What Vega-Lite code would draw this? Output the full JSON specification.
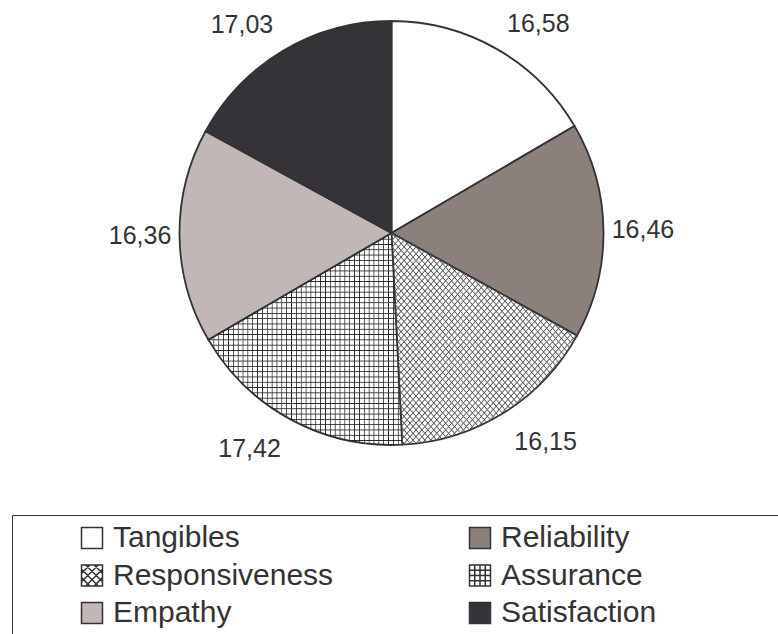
{
  "$schema": "https://vega.github.io/schema/vega-lite/v6.json",
  "width": 773,
  "height": 466,
  "autosize": {"type": "none"},
  "padding": {"left": 5, "top": 0, "right": 0, "bottom": 168},
  "background": "#ffffff",
  "config": {
    "view": {"stroke": null},
    "font": "Liberation Sans",
    "locale": {"number": {"decimal": ",", "thousands": ".", "grouping": [3], "currency": ["", " €"]}}
  },
  "data": {
    "values": [
      {"category": "Tangibles", "value": 16.58},
      {"category": "Reliability", "value": 16.46},
      {"category": "Responsiveness", "value": 16.15},
      {"category": "Assurance", "value": 17.42},
      {"category": "Empathy", "value": 16.36},
      {"category": "Satisfaction", "value": 17.03}
    ]
  },
  "transform": [{"window": [{"op": "row_number", "as": "slice_order"}]}],
  "encoding": {
    "theta": {"field": "value", "type": "quantitative", "stack": true},
    "order": {"field": "slice_order", "type": "quantitative"}
  },
  "layer": [
    {
      "mark": {"type": "arc", "outerRadius": 212, "stroke": "#333333", "strokeWidth": 1.8},
      "encoding": {
        "color": {
          "field": "category",
          "type": "nominal",
          "scale": {
            "domain": ["Tangibles", "Reliability", "Responsiveness", "Assurance", "Empathy", "Satisfaction"],
            "range": ["#ffffff", "#8c807c", "#ffffff", "#ffffff", "#c1b7b6", "#353338"]
          },
          "legend": {
            "orient": "none",
            "legendX": 7,
            "legendY": 515,
            "title": "\u00a0",
            "titleOrient": "right",
            "titlePadding": 130,
            "titleFontSize": 4,
            "direction": "horizontal",
            "columns": 2,
            "padding": 8,
            "strokeColor": "#333333",
            "symbolType": "square",
            "symbolSize": 441,
            "symbolStrokeColor": "#333333",
            "symbolStrokeWidth": 1.5,
            "symbolOpacity": 1,
            "symbolOffset": 57,
            "labelOffset": 6,
            "labelFont": "Liberation Sans",
            "labelFontSize": 30,
            "labelColor": "#333333",
            "labelLimit": 400,
            "columnPadding": 74,
            "rowPadding": 7.5,
            "encode": {
              "symbols": {
                "update": {
                  "shape": [
                    {"test": "datum.value === 'Assurance'", "value": "M-1,-1H1V1H-1Z M-0.5,-1V1 M0,-1V1 M0.5,-1V1 M-1,-0.5H1 M-1,0H1 M-1,0.5H1"},
                    {"test": "datum.value === 'Responsiveness'", "value": "M-1,-1H1V1H-1Z M-1,-0.2L-0.2,-1 M-1,0.6L0.6,-1 M-0.6,1L1,-0.6 M0.2,1L1,0.2 M0.2,-1L1,-0.2 M-0.6,-1L1,0.6 M-1,-0.6L0.6,1 M-1,0.2L-0.2,1"},
                    {"value": "square"}
                  ]
                }
              }
            }
          }
        }
      }
    },
    {
      "mark": {"type": "arc", "outerRadius": 212, "strokeWidth": 0, "fill": {"gradient": "linear", "x1": 0, "y1": 0, "x2": 1, "y2": 0, "stops": [
              {"offset":0,"color":"#2220"},{"offset":0.004,"color":"#222"},{"offset":0.008,"color":"#2220"},
              {"offset":0.025,"color":"#2220"},{"offset":0.029,"color":"#222"},{"offset":0.033,"color":"#2220"},
              {"offset":0.05,"color":"#2220"},{"offset":0.054,"color":"#222"},{"offset":0.058,"color":"#2220"},
              {"offset":0.075,"color":"#2220"},{"offset":0.079,"color":"#222"},{"offset":0.083,"color":"#2220"},
              {"offset":0.1,"color":"#2220"},{"offset":0.104,"color":"#222"},{"offset":0.108,"color":"#2220"},
              {"offset":0.125,"color":"#2220"},{"offset":0.129,"color":"#222"},{"offset":0.133,"color":"#2220"},
              {"offset":0.15,"color":"#2220"},{"offset":0.154,"color":"#222"},{"offset":0.158,"color":"#2220"},
              {"offset":0.175,"color":"#2220"},{"offset":0.179,"color":"#222"},{"offset":0.183,"color":"#2220"},
              {"offset":0.2,"color":"#2220"},{"offset":0.204,"color":"#222"},{"offset":0.208,"color":"#2220"},
              {"offset":0.225,"color":"#2220"},{"offset":0.229,"color":"#222"},{"offset":0.233,"color":"#2220"},
              {"offset":0.25,"color":"#2220"},{"offset":0.254,"color":"#222"},{"offset":0.258,"color":"#2220"},
              {"offset":0.275,"color":"#2220"},{"offset":0.279,"color":"#222"},{"offset":0.283,"color":"#2220"},
              {"offset":0.3,"color":"#2220"},{"offset":0.304,"color":"#222"},{"offset":0.308,"color":"#2220"},
              {"offset":0.325,"color":"#2220"},{"offset":0.329,"color":"#222"},{"offset":0.333,"color":"#2220"},
              {"offset":0.35,"color":"#2220"},{"offset":0.354,"color":"#222"},{"offset":0.358,"color":"#2220"},
              {"offset":0.375,"color":"#2220"},{"offset":0.379,"color":"#222"},{"offset":0.383,"color":"#2220"},
              {"offset":0.4,"color":"#2220"},{"offset":0.404,"color":"#222"},{"offset":0.408,"color":"#2220"},
              {"offset":0.425,"color":"#2220"},{"offset":0.429,"color":"#222"},{"offset":0.433,"color":"#2220"},
              {"offset":0.45,"color":"#2220"},{"offset":0.454,"color":"#222"},{"offset":0.458,"color":"#2220"},
              {"offset":0.475,"color":"#2220"},{"offset":0.479,"color":"#222"},{"offset":0.483,"color":"#2220"},
              {"offset":0.5,"color":"#2220"},{"offset":0.504,"color":"#222"},{"offset":0.508,"color":"#2220"},
              {"offset":0.525,"color":"#2220"},{"offset":0.529,"color":"#222"},{"offset":0.533,"color":"#2220"},
              {"offset":0.55,"color":"#2220"},{"offset":0.554,"color":"#222"},{"offset":0.558,"color":"#2220"},
              {"offset":0.575,"color":"#2220"},{"offset":0.579,"color":"#222"},{"offset":0.583,"color":"#2220"},
              {"offset":0.6,"color":"#2220"},{"offset":0.604,"color":"#222"},{"offset":0.608,"color":"#2220"},
              {"offset":0.625,"color":"#2220"},{"offset":0.629,"color":"#222"},{"offset":0.633,"color":"#2220"},
              {"offset":0.65,"color":"#2220"},{"offset":0.654,"color":"#222"},{"offset":0.658,"color":"#2220"},
              {"offset":0.675,"color":"#2220"},{"offset":0.679,"color":"#222"},{"offset":0.683,"color":"#2220"},
              {"offset":0.7,"color":"#2220"},{"offset":0.704,"color":"#222"},{"offset":0.708,"color":"#2220"},
              {"offset":0.725,"color":"#2220"},{"offset":0.729,"color":"#222"},{"offset":0.733,"color":"#2220"},
              {"offset":0.75,"color":"#2220"},{"offset":0.754,"color":"#222"},{"offset":0.758,"color":"#2220"},
              {"offset":0.775,"color":"#2220"},{"offset":0.779,"color":"#222"},{"offset":0.783,"color":"#2220"},
              {"offset":0.8,"color":"#2220"},{"offset":0.804,"color":"#222"},{"offset":0.808,"color":"#2220"},
              {"offset":0.825,"color":"#2220"},{"offset":0.829,"color":"#222"},{"offset":0.833,"color":"#2220"},
              {"offset":0.85,"color":"#2220"},{"offset":0.854,"color":"#222"},{"offset":0.858,"color":"#2220"},
              {"offset":0.875,"color":"#2220"},{"offset":0.879,"color":"#222"},{"offset":0.883,"color":"#2220"},
              {"offset":0.9,"color":"#2220"},{"offset":0.904,"color":"#222"},{"offset":0.908,"color":"#2220"},
              {"offset":0.925,"color":"#2220"},{"offset":0.929,"color":"#222"},{"offset":0.933,"color":"#2220"},
              {"offset":0.95,"color":"#2220"},{"offset":0.954,"color":"#222"},{"offset":0.958,"color":"#2220"},
              {"offset":0.975,"color":"#2220"},{"offset":0.979,"color":"#222"},{"offset":0.983,"color":"#2220"},
              {"offset":1,"color":"#2220"}
            ]}},
      "encoding": {
        "detail": {"field": "category", "type": "nominal"},
        "fillOpacity": {"condition": {"test": "datum.category === 'Assurance'", "value": 1}, "value": 0}
      }
    },
    {
      "mark": {"type": "arc", "outerRadius": 212, "strokeWidth": 0, "fill": {"gradient": "linear", "x1": 0, "y1": 0, "x2": 0, "y2": 1, "stops": [
              {"offset":0,"color":"#2220"},{"offset":0.004,"color":"#222"},{"offset":0.008,"color":"#2220"},
              {"offset":0.025,"color":"#2220"},{"offset":0.029,"color":"#222"},{"offset":0.033,"color":"#2220"},
              {"offset":0.05,"color":"#2220"},{"offset":0.054,"color":"#222"},{"offset":0.058,"color":"#2220"},
              {"offset":0.075,"color":"#2220"},{"offset":0.079,"color":"#222"},{"offset":0.083,"color":"#2220"},
              {"offset":0.1,"color":"#2220"},{"offset":0.104,"color":"#222"},{"offset":0.108,"color":"#2220"},
              {"offset":0.125,"color":"#2220"},{"offset":0.129,"color":"#222"},{"offset":0.133,"color":"#2220"},
              {"offset":0.15,"color":"#2220"},{"offset":0.154,"color":"#222"},{"offset":0.158,"color":"#2220"},
              {"offset":0.175,"color":"#2220"},{"offset":0.179,"color":"#222"},{"offset":0.183,"color":"#2220"},
              {"offset":0.2,"color":"#2220"},{"offset":0.204,"color":"#222"},{"offset":0.208,"color":"#2220"},
              {"offset":0.225,"color":"#2220"},{"offset":0.229,"color":"#222"},{"offset":0.233,"color":"#2220"},
              {"offset":0.25,"color":"#2220"},{"offset":0.254,"color":"#222"},{"offset":0.258,"color":"#2220"},
              {"offset":0.275,"color":"#2220"},{"offset":0.279,"color":"#222"},{"offset":0.283,"color":"#2220"},
              {"offset":0.3,"color":"#2220"},{"offset":0.304,"color":"#222"},{"offset":0.308,"color":"#2220"},
              {"offset":0.325,"color":"#2220"},{"offset":0.329,"color":"#222"},{"offset":0.333,"color":"#2220"},
              {"offset":0.35,"color":"#2220"},{"offset":0.354,"color":"#222"},{"offset":0.358,"color":"#2220"},
              {"offset":0.375,"color":"#2220"},{"offset":0.379,"color":"#222"},{"offset":0.383,"color":"#2220"},
              {"offset":0.4,"color":"#2220"},{"offset":0.404,"color":"#222"},{"offset":0.408,"color":"#2220"},
              {"offset":0.425,"color":"#2220"},{"offset":0.429,"color":"#222"},{"offset":0.433,"color":"#2220"},
              {"offset":0.45,"color":"#2220"},{"offset":0.454,"color":"#222"},{"offset":0.458,"color":"#2220"},
              {"offset":0.475,"color":"#2220"},{"offset":0.479,"color":"#222"},{"offset":0.483,"color":"#2220"},
              {"offset":0.5,"color":"#2220"},{"offset":0.504,"color":"#222"},{"offset":0.508,"color":"#2220"},
              {"offset":0.525,"color":"#2220"},{"offset":0.529,"color":"#222"},{"offset":0.533,"color":"#2220"},
              {"offset":0.55,"color":"#2220"},{"offset":0.554,"color":"#222"},{"offset":0.558,"color":"#2220"},
              {"offset":0.575,"color":"#2220"},{"offset":0.579,"color":"#222"},{"offset":0.583,"color":"#2220"},
              {"offset":0.6,"color":"#2220"},{"offset":0.604,"color":"#222"},{"offset":0.608,"color":"#2220"},
              {"offset":0.625,"color":"#2220"},{"offset":0.629,"color":"#222"},{"offset":0.633,"color":"#2220"},
              {"offset":0.65,"color":"#2220"},{"offset":0.654,"color":"#222"},{"offset":0.658,"color":"#2220"},
              {"offset":0.675,"color":"#2220"},{"offset":0.679,"color":"#222"},{"offset":0.683,"color":"#2220"},
              {"offset":0.7,"color":"#2220"},{"offset":0.704,"color":"#222"},{"offset":0.708,"color":"#2220"},
              {"offset":0.725,"color":"#2220"},{"offset":0.729,"color":"#222"},{"offset":0.733,"color":"#2220"},
              {"offset":0.75,"color":"#2220"},{"offset":0.754,"color":"#222"},{"offset":0.758,"color":"#2220"},
              {"offset":0.775,"color":"#2220"},{"offset":0.779,"color":"#222"},{"offset":0.783,"color":"#2220"},
              {"offset":0.8,"color":"#2220"},{"offset":0.804,"color":"#222"},{"offset":0.808,"color":"#2220"},
              {"offset":0.825,"color":"#2220"},{"offset":0.829,"color":"#222"},{"offset":0.833,"color":"#2220"},
              {"offset":0.85,"color":"#2220"},{"offset":0.854,"color":"#222"},{"offset":0.858,"color":"#2220"},
              {"offset":0.875,"color":"#2220"},{"offset":0.879,"color":"#222"},{"offset":0.883,"color":"#2220"},
              {"offset":0.9,"color":"#2220"},{"offset":0.904,"color":"#222"},{"offset":0.908,"color":"#2220"},
              {"offset":0.925,"color":"#2220"},{"offset":0.929,"color":"#222"},{"offset":0.933,"color":"#2220"},
              {"offset":0.95,"color":"#2220"},{"offset":0.954,"color":"#222"},{"offset":0.958,"color":"#2220"},
              {"offset":0.975,"color":"#2220"},{"offset":0.979,"color":"#222"},{"offset":0.983,"color":"#2220"},
              {"offset":1,"color":"#2220"}
            ]}},
      "encoding": {
        "detail": {"field": "category", "type": "nominal"},
        "fillOpacity": {"condition": {"test": "datum.category === 'Assurance'", "value": 1}, "value": 0}
      }
    },
    {
      "mark": {"type": "arc", "outerRadius": 212, "strokeWidth": 0, "fill": {"gradient": "linear", "x1": 0, "y1": 0, "x2": 1, "y2": 1, "stops": [
              {"offset":0,"color":"#5550"},{"offset":0.003,"color":"#555"},{"offset":0.006,"color":"#5550"},
              {"offset":0.016,"color":"#5550"},{"offset":0.019,"color":"#555"},{"offset":0.022,"color":"#5550"},
              {"offset":0.032,"color":"#5550"},{"offset":0.035,"color":"#555"},{"offset":0.038,"color":"#5550"},
              {"offset":0.048,"color":"#5550"},{"offset":0.051,"color":"#555"},{"offset":0.054,"color":"#5550"},
              {"offset":0.064,"color":"#5550"},{"offset":0.067,"color":"#555"},{"offset":0.07,"color":"#5550"},
              {"offset":0.08,"color":"#5550"},{"offset":0.083,"color":"#555"},{"offset":0.086,"color":"#5550"},
              {"offset":0.096,"color":"#5550"},{"offset":0.099,"color":"#555"},{"offset":0.102,"color":"#5550"},
              {"offset":0.112,"color":"#5550"},{"offset":0.115,"color":"#555"},{"offset":0.118,"color":"#5550"},
              {"offset":0.128,"color":"#5550"},{"offset":0.131,"color":"#555"},{"offset":0.134,"color":"#5550"},
              {"offset":0.144,"color":"#5550"},{"offset":0.147,"color":"#555"},{"offset":0.15,"color":"#5550"},
              {"offset":0.16,"color":"#5550"},{"offset":0.163,"color":"#555"},{"offset":0.166,"color":"#5550"},
              {"offset":0.176,"color":"#5550"},{"offset":0.179,"color":"#555"},{"offset":0.182,"color":"#5550"},
              {"offset":0.192,"color":"#5550"},{"offset":0.195,"color":"#555"},{"offset":0.198,"color":"#5550"},
              {"offset":0.208,"color":"#5550"},{"offset":0.211,"color":"#555"},{"offset":0.214,"color":"#5550"},
              {"offset":0.224,"color":"#5550"},{"offset":0.227,"color":"#555"},{"offset":0.23,"color":"#5550"},
              {"offset":0.24,"color":"#5550"},{"offset":0.243,"color":"#555"},{"offset":0.246,"color":"#5550"},
              {"offset":0.256,"color":"#5550"},{"offset":0.259,"color":"#555"},{"offset":0.262,"color":"#5550"},
              {"offset":0.272,"color":"#5550"},{"offset":0.275,"color":"#555"},{"offset":0.278,"color":"#5550"},
              {"offset":0.288,"color":"#5550"},{"offset":0.291,"color":"#555"},{"offset":0.294,"color":"#5550"},
              {"offset":0.304,"color":"#5550"},{"offset":0.307,"color":"#555"},{"offset":0.31,"color":"#5550"},
              {"offset":0.32,"color":"#5550"},{"offset":0.323,"color":"#555"},{"offset":0.326,"color":"#5550"},
              {"offset":0.336,"color":"#5550"},{"offset":0.339,"color":"#555"},{"offset":0.342,"color":"#5550"},
              {"offset":0.352,"color":"#5550"},{"offset":0.355,"color":"#555"},{"offset":0.358,"color":"#5550"},
              {"offset":0.368,"color":"#5550"},{"offset":0.371,"color":"#555"},{"offset":0.374,"color":"#5550"},
              {"offset":0.384,"color":"#5550"},{"offset":0.387,"color":"#555"},{"offset":0.39,"color":"#5550"},
              {"offset":0.4,"color":"#5550"},{"offset":0.403,"color":"#555"},{"offset":0.406,"color":"#5550"},
              {"offset":0.416,"color":"#5550"},{"offset":0.419,"color":"#555"},{"offset":0.422,"color":"#5550"},
              {"offset":0.432,"color":"#5550"},{"offset":0.435,"color":"#555"},{"offset":0.438,"color":"#5550"},
              {"offset":0.448,"color":"#5550"},{"offset":0.451,"color":"#555"},{"offset":0.454,"color":"#5550"},
              {"offset":0.464,"color":"#5550"},{"offset":0.467,"color":"#555"},{"offset":0.47,"color":"#5550"},
              {"offset":0.48,"color":"#5550"},{"offset":0.483,"color":"#555"},{"offset":0.486,"color":"#5550"},
              {"offset":0.496,"color":"#5550"},{"offset":0.499,"color":"#555"},{"offset":0.502,"color":"#5550"},
              {"offset":0.512,"color":"#5550"},{"offset":0.515,"color":"#555"},{"offset":0.518,"color":"#5550"},
              {"offset":0.528,"color":"#5550"},{"offset":0.531,"color":"#555"},{"offset":0.534,"color":"#5550"},
              {"offset":0.544,"color":"#5550"},{"offset":0.547,"color":"#555"},{"offset":0.55,"color":"#5550"},
              {"offset":0.56,"color":"#5550"},{"offset":0.563,"color":"#555"},{"offset":0.566,"color":"#5550"},
              {"offset":0.576,"color":"#5550"},{"offset":0.579,"color":"#555"},{"offset":0.582,"color":"#5550"},
              {"offset":0.592,"color":"#5550"},{"offset":0.595,"color":"#555"},{"offset":0.598,"color":"#5550"},
              {"offset":0.608,"color":"#5550"},{"offset":0.611,"color":"#555"},{"offset":0.614,"color":"#5550"},
              {"offset":0.624,"color":"#5550"},{"offset":0.627,"color":"#555"},{"offset":0.63,"color":"#5550"},
              {"offset":0.64,"color":"#5550"},{"offset":0.643,"color":"#555"},{"offset":0.646,"color":"#5550"},
              {"offset":0.656,"color":"#5550"},{"offset":0.659,"color":"#555"},{"offset":0.662,"color":"#5550"},
              {"offset":0.672,"color":"#5550"},{"offset":0.675,"color":"#555"},{"offset":0.678,"color":"#5550"},
              {"offset":0.688,"color":"#5550"},{"offset":0.691,"color":"#555"},{"offset":0.694,"color":"#5550"},
              {"offset":0.704,"color":"#5550"},{"offset":0.707,"color":"#555"},{"offset":0.71,"color":"#5550"},
              {"offset":0.72,"color":"#5550"},{"offset":0.723,"color":"#555"},{"offset":0.726,"color":"#5550"},
              {"offset":0.736,"color":"#5550"},{"offset":0.739,"color":"#555"},{"offset":0.742,"color":"#5550"},
              {"offset":0.752,"color":"#5550"},{"offset":0.755,"color":"#555"},{"offset":0.758,"color":"#5550"},
              {"offset":0.768,"color":"#5550"},{"offset":0.771,"color":"#555"},{"offset":0.774,"color":"#5550"},
              {"offset":0.784,"color":"#5550"},{"offset":0.787,"color":"#555"},{"offset":0.79,"color":"#5550"},
              {"offset":0.8,"color":"#5550"},{"offset":0.803,"color":"#555"},{"offset":0.806,"color":"#5550"},
              {"offset":0.816,"color":"#5550"},{"offset":0.819,"color":"#555"},{"offset":0.822,"color":"#5550"},
              {"offset":0.832,"color":"#5550"},{"offset":0.835,"color":"#555"},{"offset":0.838,"color":"#5550"},
              {"offset":0.848,"color":"#5550"},{"offset":0.851,"color":"#555"},{"offset":0.854,"color":"#5550"},
              {"offset":0.864,"color":"#5550"},{"offset":0.867,"color":"#555"},{"offset":0.87,"color":"#5550"},
              {"offset":0.88,"color":"#5550"},{"offset":0.883,"color":"#555"},{"offset":0.886,"color":"#5550"},
              {"offset":0.896,"color":"#5550"},{"offset":0.899,"color":"#555"},{"offset":0.902,"color":"#5550"},
              {"offset":0.912,"color":"#5550"},{"offset":0.915,"color":"#555"},{"offset":0.918,"color":"#5550"},
              {"offset":0.928,"color":"#5550"},{"offset":0.931,"color":"#555"},{"offset":0.934,"color":"#5550"},
              {"offset":0.944,"color":"#5550"},{"offset":0.947,"color":"#555"},{"offset":0.95,"color":"#5550"},
              {"offset":0.96,"color":"#5550"},{"offset":0.963,"color":"#555"},{"offset":0.966,"color":"#5550"},
              {"offset":0.976,"color":"#5550"},{"offset":0.979,"color":"#555"},{"offset":0.982,"color":"#5550"},
              {"offset":0.992,"color":"#5550"},{"offset":0.995,"color":"#555"},{"offset":0.998,"color":"#5550"},
              {"offset":1,"color":"#5550"}
            ]}},
      "encoding": {
        "detail": {"field": "category", "type": "nominal"},
        "fillOpacity": {"condition": {"test": "datum.category === 'Responsiveness'", "value": 1}, "value": 0}
      }
    },
    {
      "mark": {"type": "arc", "outerRadius": 212, "strokeWidth": 0, "fill": {"gradient": "linear", "x1": 1, "y1": 0, "x2": 0, "y2": 1, "stops": [
              {"offset":0,"color":"#5550"},{"offset":0.003,"color":"#555"},{"offset":0.006,"color":"#5550"},
              {"offset":0.016,"color":"#5550"},{"offset":0.019,"color":"#555"},{"offset":0.022,"color":"#5550"},
              {"offset":0.032,"color":"#5550"},{"offset":0.035,"color":"#555"},{"offset":0.038,"color":"#5550"},
              {"offset":0.048,"color":"#5550"},{"offset":0.051,"color":"#555"},{"offset":0.054,"color":"#5550"},
              {"offset":0.064,"color":"#5550"},{"offset":0.067,"color":"#555"},{"offset":0.07,"color":"#5550"},
              {"offset":0.08,"color":"#5550"},{"offset":0.083,"color":"#555"},{"offset":0.086,"color":"#5550"},
              {"offset":0.096,"color":"#5550"},{"offset":0.099,"color":"#555"},{"offset":0.102,"color":"#5550"},
              {"offset":0.112,"color":"#5550"},{"offset":0.115,"color":"#555"},{"offset":0.118,"color":"#5550"},
              {"offset":0.128,"color":"#5550"},{"offset":0.131,"color":"#555"},{"offset":0.134,"color":"#5550"},
              {"offset":0.144,"color":"#5550"},{"offset":0.147,"color":"#555"},{"offset":0.15,"color":"#5550"},
              {"offset":0.16,"color":"#5550"},{"offset":0.163,"color":"#555"},{"offset":0.166,"color":"#5550"},
              {"offset":0.176,"color":"#5550"},{"offset":0.179,"color":"#555"},{"offset":0.182,"color":"#5550"},
              {"offset":0.192,"color":"#5550"},{"offset":0.195,"color":"#555"},{"offset":0.198,"color":"#5550"},
              {"offset":0.208,"color":"#5550"},{"offset":0.211,"color":"#555"},{"offset":0.214,"color":"#5550"},
              {"offset":0.224,"color":"#5550"},{"offset":0.227,"color":"#555"},{"offset":0.23,"color":"#5550"},
              {"offset":0.24,"color":"#5550"},{"offset":0.243,"color":"#555"},{"offset":0.246,"color":"#5550"},
              {"offset":0.256,"color":"#5550"},{"offset":0.259,"color":"#555"},{"offset":0.262,"color":"#5550"},
              {"offset":0.272,"color":"#5550"},{"offset":0.275,"color":"#555"},{"offset":0.278,"color":"#5550"},
              {"offset":0.288,"color":"#5550"},{"offset":0.291,"color":"#555"},{"offset":0.294,"color":"#5550"},
              {"offset":0.304,"color":"#5550"},{"offset":0.307,"color":"#555"},{"offset":0.31,"color":"#5550"},
              {"offset":0.32,"color":"#5550"},{"offset":0.323,"color":"#555"},{"offset":0.326,"color":"#5550"},
              {"offset":0.336,"color":"#5550"},{"offset":0.339,"color":"#555"},{"offset":0.342,"color":"#5550"},
              {"offset":0.352,"color":"#5550"},{"offset":0.355,"color":"#555"},{"offset":0.358,"color":"#5550"},
              {"offset":0.368,"color":"#5550"},{"offset":0.371,"color":"#555"},{"offset":0.374,"color":"#5550"},
              {"offset":0.384,"color":"#5550"},{"offset":0.387,"color":"#555"},{"offset":0.39,"color":"#5550"},
              {"offset":0.4,"color":"#5550"},{"offset":0.403,"color":"#555"},{"offset":0.406,"color":"#5550"},
              {"offset":0.416,"color":"#5550"},{"offset":0.419,"color":"#555"},{"offset":0.422,"color":"#5550"},
              {"offset":0.432,"color":"#5550"},{"offset":0.435,"color":"#555"},{"offset":0.438,"color":"#5550"},
              {"offset":0.448,"color":"#5550"},{"offset":0.451,"color":"#555"},{"offset":0.454,"color":"#5550"},
              {"offset":0.464,"color":"#5550"},{"offset":0.467,"color":"#555"},{"offset":0.47,"color":"#5550"},
              {"offset":0.48,"color":"#5550"},{"offset":0.483,"color":"#555"},{"offset":0.486,"color":"#5550"},
              {"offset":0.496,"color":"#5550"},{"offset":0.499,"color":"#555"},{"offset":0.502,"color":"#5550"},
              {"offset":0.512,"color":"#5550"},{"offset":0.515,"color":"#555"},{"offset":0.518,"color":"#5550"},
              {"offset":0.528,"color":"#5550"},{"offset":0.531,"color":"#555"},{"offset":0.534,"color":"#5550"},
              {"offset":0.544,"color":"#5550"},{"offset":0.547,"color":"#555"},{"offset":0.55,"color":"#5550"},
              {"offset":0.56,"color":"#5550"},{"offset":0.563,"color":"#555"},{"offset":0.566,"color":"#5550"},
              {"offset":0.576,"color":"#5550"},{"offset":0.579,"color":"#555"},{"offset":0.582,"color":"#5550"},
              {"offset":0.592,"color":"#5550"},{"offset":0.595,"color":"#555"},{"offset":0.598,"color":"#5550"},
              {"offset":0.608,"color":"#5550"},{"offset":0.611,"color":"#555"},{"offset":0.614,"color":"#5550"},
              {"offset":0.624,"color":"#5550"},{"offset":0.627,"color":"#555"},{"offset":0.63,"color":"#5550"},
              {"offset":0.64,"color":"#5550"},{"offset":0.643,"color":"#555"},{"offset":0.646,"color":"#5550"},
              {"offset":0.656,"color":"#5550"},{"offset":0.659,"color":"#555"},{"offset":0.662,"color":"#5550"},
              {"offset":0.672,"color":"#5550"},{"offset":0.675,"color":"#555"},{"offset":0.678,"color":"#5550"},
              {"offset":0.688,"color":"#5550"},{"offset":0.691,"color":"#555"},{"offset":0.694,"color":"#5550"},
              {"offset":0.704,"color":"#5550"},{"offset":0.707,"color":"#555"},{"offset":0.71,"color":"#5550"},
              {"offset":0.72,"color":"#5550"},{"offset":0.723,"color":"#555"},{"offset":0.726,"color":"#5550"},
              {"offset":0.736,"color":"#5550"},{"offset":0.739,"color":"#555"},{"offset":0.742,"color":"#5550"},
              {"offset":0.752,"color":"#5550"},{"offset":0.755,"color":"#555"},{"offset":0.758,"color":"#5550"},
              {"offset":0.768,"color":"#5550"},{"offset":0.771,"color":"#555"},{"offset":0.774,"color":"#5550"},
              {"offset":0.784,"color":"#5550"},{"offset":0.787,"color":"#555"},{"offset":0.79,"color":"#5550"},
              {"offset":0.8,"color":"#5550"},{"offset":0.803,"color":"#555"},{"offset":0.806,"color":"#5550"},
              {"offset":0.816,"color":"#5550"},{"offset":0.819,"color":"#555"},{"offset":0.822,"color":"#5550"},
              {"offset":0.832,"color":"#5550"},{"offset":0.835,"color":"#555"},{"offset":0.838,"color":"#5550"},
              {"offset":0.848,"color":"#5550"},{"offset":0.851,"color":"#555"},{"offset":0.854,"color":"#5550"},
              {"offset":0.864,"color":"#5550"},{"offset":0.867,"color":"#555"},{"offset":0.87,"color":"#5550"},
              {"offset":0.88,"color":"#5550"},{"offset":0.883,"color":"#555"},{"offset":0.886,"color":"#5550"},
              {"offset":0.896,"color":"#5550"},{"offset":0.899,"color":"#555"},{"offset":0.902,"color":"#5550"},
              {"offset":0.912,"color":"#5550"},{"offset":0.915,"color":"#555"},{"offset":0.918,"color":"#5550"},
              {"offset":0.928,"color":"#5550"},{"offset":0.931,"color":"#555"},{"offset":0.934,"color":"#5550"},
              {"offset":0.944,"color":"#5550"},{"offset":0.947,"color":"#555"},{"offset":0.95,"color":"#5550"},
              {"offset":0.96,"color":"#5550"},{"offset":0.963,"color":"#555"},{"offset":0.966,"color":"#5550"},
              {"offset":0.976,"color":"#5550"},{"offset":0.979,"color":"#555"},{"offset":0.982,"color":"#5550"},
              {"offset":0.992,"color":"#5550"},{"offset":0.995,"color":"#555"},{"offset":0.998,"color":"#5550"},
              {"offset":1,"color":"#5550"}
            ]}},
      "encoding": {
        "detail": {"field": "category", "type": "nominal"},
        "fillOpacity": {"condition": {"test": "datum.category === 'Responsiveness'", "value": 1}, "value": 0}
      }
    },
    {
      "mark": {
        "type": "text",
        "font": "Liberation Sans",
        "fontSize": 25,
        "fill": "#333333",
        "radius": {"expr": "220 + 14 * abs(cos(scale('theta', 0.5 * datum.value_start + 0.5 * datum.value_end)))"},
        "align": {"expr": "sin(scale('theta', 0.5 * datum.value_start + 0.5 * datum.value_end)) > 0 ? 'left' : 'right'"},
        "baseline": {"expr": "cos(scale('theta', 0.5 * datum.value_start + 0.5 * datum.value_end)) > 0.5 ? 'alphabetic' : (cos(scale('theta', 0.5 * datum.value_start + 0.5 * datum.value_end)) < -0.5 ? 'top' : 'middle')"}
      },
      "encoding": {
        "detail": {"field": "category", "type": "nominal"},
        "text": {"field": "value", "type": "quantitative", "format": ".2f"}
      }
    }
  ]
}
